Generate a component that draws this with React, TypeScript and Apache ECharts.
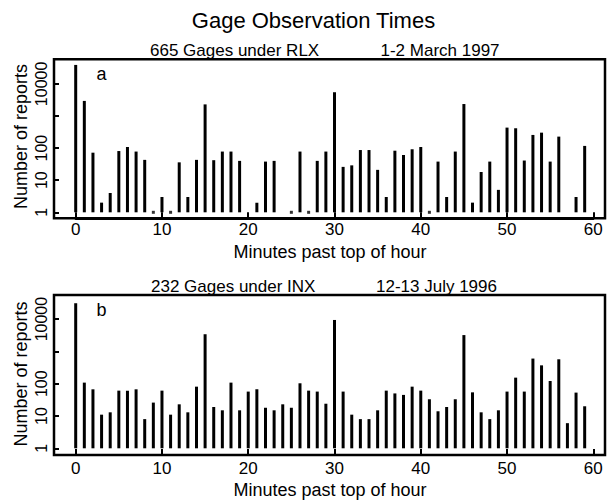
import React, { useEffect, useRef } from "react";
import * as echarts from "echarts";

// ---- data ----
const minutes = [
  0, 1, 2, 3, 4, 5, 6, 7, 8, 9, 10, 11, 12, 13, 14, 15, 16, 17, 18, 19,
  20, 21, 22, 23, 24, 25, 26, 27, 28, 29, 30, 31, 32, 33, 34, 35, 36, 37, 38, 39,
  40, 41, 42, 43, 44, 45, 46, 47, 48, 49, 50, 51, 52, 53, 54, 55, 56, 57, 58, 59, 60,
];
// Panel a: 665 gages under RLX, 1-2 March 1997 (null = no reports)
const reportsA: (number | null)[] = [
  39000, 2950, 72, 2, 4, 81, 108, 78, 43, 1, 3, 1, 36, 3, 43, 2300, 42, 78, 78, 40,
  null, 2, 38, 40, null, 1, 78, 1, 40, 78, 5500, 26, 29, 87, 87, 21, 3, 83, 61, 92,
  108, 1, 38, 3, 78, 2360, 2, 18, 38, 5, 435, 415, 41, 257, 303, 38, 228, null, 3, 117, null,
];
// Panel b: 232 gages under INX, 12-13 July 1996
const reportsB: (number | null)[] = [
  31000, 108, 67, 11, 13, 61, 61, 67, 8, 26, 61, 11, 23, 13, 81, 3400, 19, 15, 108, 15,
  57, 67, 18, 15, 23, 18, 103, 61, 57, 24, 9400, 57, 11, 8, 8, 15, 61, 50, 45, 81,
  61, 33, 14, 19, 33, 3200, 54, 13, 8, 15, 57, 154, 57, 600, 370, 121, 570, 6, 53, 20, null,
];
const yTickValues = [1, 10, 100, 1000, 10000];
const yTickLabels = ["1", "10", "100", "", "10000"];

const titleText = "Gage Observation Times";
const panelLeftTexts = ["665 Gages under RLX", "232 Gages under INX"];
const panelDateTexts = ["1-2 March 1997", "12-13 July 1996"];
const panelTags = ["a", "b"];
const xAxisTitle = "Minutes past top of hour";
const yAxisTitle = "Number of reports";

const FONT = '"Liberation Sans", Arial, Helvetica, sans-serif';

// layout (pixels)
const GRID_LEFT = 75.7;
const GRID_WIDTH = 517.6;
const grids = [
  { top: 83.9, height: 128.4 },
  { top: 319.1, height: 129.2 },
];
const frames = [
  { y: 59.3, h: 159 },
  { y: 295, h: 160 },
];
const FRAME_LEFT = 54;
const FRAME_RIGHT = 605;

function txt(text: string, x: number, y: number, size: number, align = "left", rotation = 0) {
  return {
    type: "text",
    x,
    y,
    rotation,
    z: 100,
    style: {
      text,
      fontSize: size,
      fontFamily: FONT,
      fill: "#000",
      align,
      verticalAlign: "middle",
      textAlign: align,
      textVerticalAlign: "middle",
    },
  };
}

export default function App() {
  const ref = useRef<HTMLDivElement>(null);
  useEffect(() => {
    if (!ref.current) return;
    const chart = echarts.init(ref.current, undefined, { renderer: "svg" });
    const datasets = [reportsA, reportsB];

    const labelFor = (v: number) => {
      const idx = yTickValues.findIndex((t) => Math.abs(t - v) < 1e-6 * t);
      return idx >= 0 ? yTickLabels[idx] : "";
    };

    const option: any = {
      animation: false,
      backgroundColor: "#fff",
      grid: grids.map((g) => ({
        left: GRID_LEFT,
        top: g.top,
        width: GRID_WIDTH,
        height: g.height,
        containLabel: false,
      })),
      xAxis: [0, 1].map((i) => ({
        type: "value",
        gridIndex: i,
        min: 0,
        max: 60,
        interval: 10,
        offset: frames[i].y + frames[i].h - (grids[i].top + grids[i].height),
        axisLine: { show: true, onZero: false, lineStyle: { color: "#000", width: 2 } },
        axisTick: { show: true, inside: true, length: 6, lineStyle: { color: "#000", width: 2 } },
        axisLabel: { color: "#000", fontSize: 17, fontFamily: FONT, margin: i === 0 ? 3 : 5 },
        splitLine: { show: false },
      })),
      yAxis: [0, 1].map((i) => ({
        type: "log",
        logBase: 10,
        gridIndex: i,
        min: 1,
        max: 10000,
        offset: GRID_LEFT - FRAME_LEFT,
        axisLine: { show: true, onZero: false, lineStyle: { color: "#000", width: 2 } },
        axisTick: { show: true, inside: true, length: 5, lineStyle: { color: "#000", width: 2 } },
        axisLabel: {
          color: "#000",
          fontSize: 16,
          fontFamily: FONT,
          rotate: 90,
          margin: 5,
          formatter: (v: number) => labelFor(v),
        },
        splitLine: { show: false },
        minorTick: { show: false },
      })),
      series: [
        ...datasets.map((d, i) => ({
          type: "bar",
          xAxisIndex: i,
          yAxisIndex: i,
          barWidth: 3,
          clip: false,
          itemStyle: { color: "#000" },
          data: minutes
            .map((m, k) => [m, d[k]])
            .filter((p) => p[1] !== null),
        })),
        ...datasets.map((d, i) => ({
          type: "scatter",
          xAxisIndex: i,
          yAxisIndex: i,
          symbol: "rect",
          symbolSize: [3, 3],
          clip: false,
          itemStyle: { color: "#000" },
          data: minutes.map((m, k) => [m, d[k]]).filter((p) => p[1] === 1),
        })),
      ],
      graphic: [
        ...frames.map((f) => ({
          type: "rect",
          z: 90,
          shape: { x: FRAME_LEFT, y: f.y, width: FRAME_RIGHT - FRAME_LEFT, height: f.h },
          style: { fill: "none", stroke: "#000", lineWidth: 2.5 },
        })),
        txt(titleText, 313.5, 20, 22, "center"),
        txt(panelLeftTexts[0], 150, 50, 17),
        txt(panelDateTexts[0], 380.5, 50, 17),
        txt(panelLeftTexts[1], 151, 286.5, 17),
        txt(panelDateTexts[1], 376, 286.5, 17),
        txt(panelTags[0], 101.5, 74, 18, "center"),
        txt(panelTags[1], 101.5, 310, 18, "center"),
        txt(xAxisTitle, 330, 252, 18, "center"),
        txt(xAxisTitle, 330, 489.5, 18, "center"),
        txt(yAxisTitle, 21, 136.5, 18, "center", Math.PI / 2),
        txt(yAxisTitle, 21, 374, 18, "center", Math.PI / 2),
      ],
    };
    chart.setOption(option);
    return () => chart.dispose();
  }, []);

  return (
    <div
      ref={ref}
      style={{ position: "absolute", left: 0, top: 0, width: 609, height: 502, background: "#fff" }}
    />
  );
}
